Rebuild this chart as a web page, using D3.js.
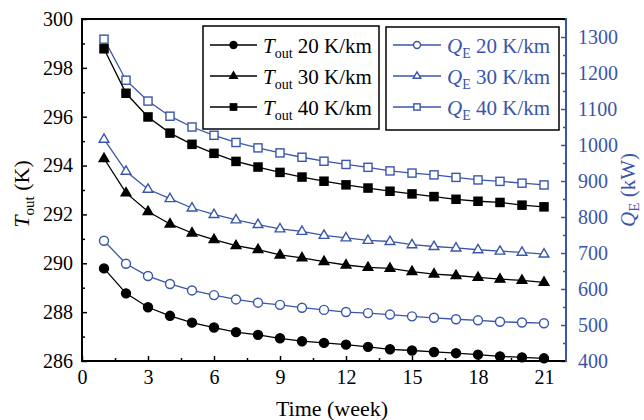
<!DOCTYPE html>
<html>
<head>
<meta charset="utf-8">
<script src="https://cdn.jsdelivr.net/npm/d3@7"></script>
<style>
  body { margin: 0; background: #fff; }
  svg, svg text { font-family: "Liberation Serif", "Times New Roman", Times, "DejaVu Serif", serif; }
</style>
</head>
<body>
<div id="chart"></div>
<script>
// Data
const weeks = [1, 2, 3, 4, 5, 6, 7, 8, 9, 10, 11, 12, 13, 14, 15, 16, 17, 18, 19, 20, 21];
const tOut20 = [289.79, 288.77, 288.2, 287.85, 287.57, 287.37, 287.18, 287.07, 286.93, 286.81, 286.74, 286.67, 286.58, 286.48, 286.43, 286.37, 286.32, 286.26, 286.19, 286.15, 286.11];
const tOut30 = [294.29, 292.88, 292.12, 291.61, 291.24, 290.97, 290.72, 290.56, 290.34, 290.22, 290.07, 289.93, 289.83, 289.79, 289.66, 289.56, 289.5, 289.42, 289.35, 289.3, 289.22];
const tOut40 = [298.78, 296.96, 295.99, 295.33, 294.87, 294.5, 294.17, 293.94, 293.72, 293.53, 293.36, 293.21, 293.08, 292.95, 292.84, 292.73, 292.62, 292.54, 292.49, 292.38, 292.31];
const qE20 = [734, 670, 636, 614, 596, 583, 571, 562, 556, 548, 542, 536, 533, 529, 524, 520, 516, 513, 509, 507, 505];
const qE30 = [1016, 927, 877, 851, 825, 807, 792, 779, 767, 760, 749, 742, 735, 732, 723, 718, 714, 709, 705, 702, 697];
const qE40 = [1294, 1180, 1122, 1080, 1050, 1027, 1007, 992, 978, 966, 955, 946, 938, 928, 922, 917, 910, 903, 899, 894, 889];
const gradients = ["20 K/km", "30 K/km", "40 K/km"];
const xTicks = [0, 3, 6, 9, 12, 15, 18, 21];
const leftTicks = [286, 288, 290, 292, 294, 296, 298, 300];
const rightTicks = [400, 500, 600, 700, 800, 900, 1000, 1100, 1200, 1300];

// Dimensions
let w = 644, h = 420;
let m = { left: 82, right: 566, top: 19, bottom: 361 };
const blue = "#3a55aa";
const serif = "Liberation Serif, Times New Roman, serif";

let svg = d3.select("#chart").append("svg").attr("width", w).attr("height", h).attr("font-family", serif);

// Scales
let x = d3.scaleLinear().domain([0, 22]).range([m.left, m.right]);
let yL = d3.scaleLinear().domain([286, 300]).range([m.bottom, m.top]);
let yR = d3.scaleLinear().domain([400, 1350]).range([m.bottom, m.top]);

// Axes - ticks point inward
function styleAxis(g, color) {
  g.attr("font-size", 20).attr("font-family", serif);
  g.select(".domain").remove();
  g.selectAll("line").attr("stroke", color).attr("stroke-width", 1.5);
  g.selectAll("text").attr("fill", color);
}

svg.append("g").attr("transform", `translate(0,${m.bottom})`)
  .call(d3.axisBottom(x).tickValues(xTicks).tickSize(-5).tickPadding(9).tickFormat(d3.format("d")))
  .call(g => styleAxis(g, "#000"));
svg.append("g").attr("transform", `translate(0,${m.bottom})`)
  .call(d3.axisBottom(x).tickValues([1.5, 4.5, 7.5, 10.5, 13.5, 16.5, 19.5]).tickSize(-3).tickFormat(""))
  .call(g => styleAxis(g, "#000"));

svg.append("g").attr("transform", `translate(${m.left},0)`)
  .call(d3.axisLeft(yL).tickValues(leftTicks).tickSize(-5).tickPadding(9).tickFormat(d3.format("d")))
  .call(g => styleAxis(g, "#000"));
svg.append("g").attr("transform", `translate(${m.left},0)`)
  .call(d3.axisLeft(yL).tickValues([287, 289, 291, 293, 295, 297, 299]).tickSize(-3).tickFormat(""))
  .call(g => styleAxis(g, "#000"));

svg.append("g").attr("transform", `translate(${m.right},0)`)
  .call(d3.axisRight(yR).tickValues(rightTicks).tickSize(-5).tickPadding(12).tickFormat(d3.format("d")))
  .call(g => styleAxis(g, blue));
svg.append("g").attr("transform", `translate(${m.right},0)`)
  .call(d3.axisRight(yR).tickValues([450, 550, 650, 750, 850, 950, 1050, 1150, 1250, 1350]).tickSize(-3).tickFormat(""))
  .call(g => styleAxis(g, blue));

// Frame lines
svg.append("line").attr("x1", m.left).attr("x2", m.right).attr("y1", m.top).attr("y2", m.top).attr("stroke", "#000").attr("stroke-width", 2);
svg.append("line").attr("x1", m.left).attr("x2", m.right + 1).attr("y1", m.bottom).attr("y2", m.bottom).attr("stroke", "#000").attr("stroke-width", 2);
svg.append("line").attr("x1", m.left).attr("x2", m.left).attr("y1", m.top - 1).attr("y2", m.bottom + 1).attr("stroke", "#000").attr("stroke-width", 2);
svg.append("line").attr("x1", m.right).attr("x2", m.right).attr("y1", m.top - 1).attr("y2", m.bottom + 1).attr("stroke", blue).attr("stroke-width", 2);

// Marker shapes
function drawMarker(g, shape, cx, cy, s, color, filled) {
  let fill = filled ? color : "#fff";
  if (shape === "circle") {
    g.append("circle").attr("cx", cx).attr("cy", cy).attr("r", s * 0.5)
      .attr("fill", fill).attr("stroke", color).attr("stroke-width", 1.4);
  } else if (shape === "square") {
    g.append("rect").attr("x", cx - s * 0.45).attr("y", cy - s * 0.45).attr("width", s * 0.9).attr("height", s * 0.9)
      .attr("fill", fill).attr("stroke", color).attr("stroke-width", 1.4);
  } else {
    let r = s * 0.6;
    g.append("path").attr("d", `M${cx},${cy - r}L${cx + r * 0.9},${cy + r * 0.55}L${cx - r * 0.9},${cy + r * 0.55}Z`)
      .attr("fill", fill).attr("stroke", color).attr("stroke-width", 1.4);
  }
}

const seriesList = [
  { vals: qE20, y: yR, color: blue, shape: "circle", filled: false },
  { vals: qE30, y: yR, color: blue, shape: "triangle", filled: false },
  { vals: qE40, y: yR, color: blue, shape: "square", filled: false },
  { vals: tOut20, y: yL, color: "#000", shape: "circle", filled: true },
  { vals: tOut30, y: yL, color: "#000", shape: "triangle", filled: true },
  { vals: tOut40, y: yL, color: "#000", shape: "square", filled: true }
];

seriesList.forEach(s => {
  let line = d3.line().x((d, i) => x(weeks[i])).y(d => s.y(d));
  svg.append("path").attr("d", line(s.vals)).attr("fill", "none").attr("stroke", s.color).attr("stroke-width", 1.3);
  let g = svg.append("g");
  s.vals.forEach((v, i) => drawMarker(g, s.shape, x(weeks[i]), s.y(v), 9, s.color, s.filled));
});

// Legends
function legend(x0, y0, x1, y1, sym, sub, color, shapes, filled, lx, tx) {
  svg.append("rect").attr("x", x0).attr("y", y0).attr("width", x1 - x0).attr("height", y1 - y0)
    .attr("fill", "#fff").attr("stroke", "#000").attr("stroke-width", 1.5);
  gradients.forEach((lab, i) => {
    let cy = 45 + i * 31;
    let g = svg.append("g");
    g.append("line").attr("x1", lx[0]).attr("x2", lx[1]).attr("y1", cy).attr("y2", cy).attr("stroke", color).attr("stroke-width", 1.3);
    drawMarker(g, shapes[i], (lx[0] + lx[1]) / 2, cy, 7, color, filled);
    let t = g.append("text").attr("x", tx).attr("y", cy + 7.5).attr("font-size", 21).attr("fill", color);
    t.append("tspan").attr("font-style", "italic").text(sym);
    t.append("tspan").attr("font-size", 14).attr("dy", 5).text(sub);
    t.append("tspan").attr("dy", -5).text("\u00a0" + lab);
  });
}
legend(203, 26, 379, 129, "T", "out", "#000", ["circle", "triangle", "square"], true, [210, 257], 263);
legend(386, 27, 559, 130, "Q", "E", blue, ["circle", "triangle", "square"], false, [393, 441], 447);

// Axis titles
svg.append("text").attr("x", (m.left + m.right) / 2 + 8).attr("y", 416).attr("text-anchor", "middle")
  .attr("font-size", 22).text("Time (week)");

let lt = svg.append("text").attr("transform", `translate(29,${(m.top + m.bottom) / 2 + 4}) rotate(-90)`)
  .attr("text-anchor", "middle").attr("font-size", 22);
lt.append("tspan").attr("font-style", "italic").text("T");
lt.append("tspan").attr("font-size", 15).attr("dy", 5).text("out");
lt.append("tspan").attr("dy", -5).text(" (K)");

let rt = svg.append("text").attr("transform", `translate(635,${(m.top + m.bottom) / 2}) rotate(-90)`)
  .attr("text-anchor", "middle").attr("font-size", 21).attr("fill", blue);
rt.append("tspan").attr("font-style", "italic").text("Q");
rt.append("tspan").attr("font-size", 15).attr("dy", 4).text("E");
rt.append("tspan").attr("dy", -4).text(" (kW)");
</script>
</body>
</html>
